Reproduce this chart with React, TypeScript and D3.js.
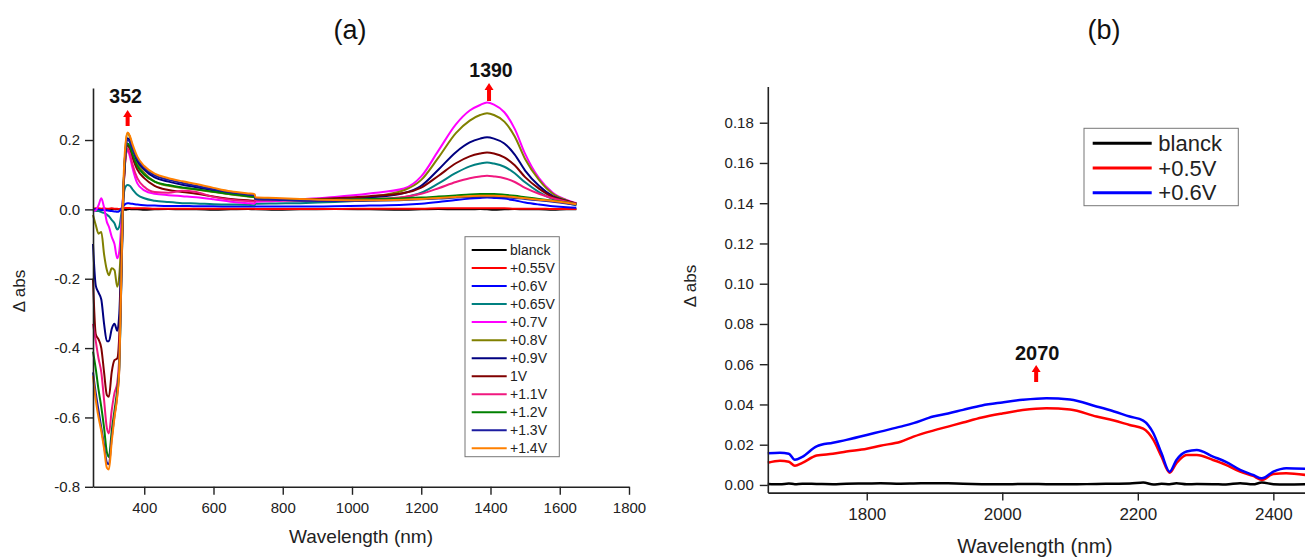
import React, { useEffect, useRef } from 'react';
import * as d3 from 'd3';

// ---------- panel (a) data ----------
const WL_A = [
    252, 260, 268, 276, 284, 292, 298, 306, 314, 322, 328, 334, 340, 346, 352, 358, 366, 380, 400, 430, 470, 510, 550,
    600, 650, 700, 719, 721, 780, 850, 950, 1050, 1150, 1200, 1250, 1300, 1340, 1370, 1390, 1410, 1440, 1470, 1500,
    1540, 1580, 1620, 1648,
];

const BLANCK_A = [
    0.001, 0.0, -0.001, 0.0, 0.001, 0.0, -0.001, 0.0, 0.001, 0.0, 0.0, 0.001, 0.0, -0.001, 0.0, 0.001, 0.0, 0.0, -0.001,
    0.0, 0.001, 0.0, 0.0, -0.001, 0.0, 0.001, 0.0, 0.0, -0.001, 0.0, 0.001, 0.0, -0.001, 0.0, 0.001, 0.0, 0.0, 0.001, 0.0,
    -0.001, 0.0, 0.001, 0.0, 0.0, -0.001, 0.0, 0.0,
];
const V055 = [
    0.002, 0.003, 0.003, 0.002, 0.003, 0.002, 0.002, 0.003, 0.002, 0.002, 0.001, 0.002, 0.003, 0.004, 0.004, 0.004, 0.003,
    0.003, 0.003, 0.002, 0.002, 0.002, 0.002, 0.002, 0.002, 0.002, 0.002, 0.001, 0.001, 0.001, 0.001, 0.002, 0.002, 0.002,
    0.003, 0.003, 0.003, 0.003, 0.003, 0.003, 0.003, 0.002, 0.002, 0.002, 0.001, 0.001, 0.001,
];
const V060 = [
    0.0, 0.0, -0.001, -0.002, -0.002, -0.003, -0.004, -0.005, -0.006, -0.007, -0.005, 0.002, 0.01, 0.016, 0.018, 0.017,
    0.016, 0.014, 0.012, 0.011, 0.01, 0.01, 0.009, 0.009, 0.008, 0.008, 0.008, 0.008, 0.008, 0.008, 0.009, 0.011, 0.013,
    0.016, 0.021, 0.027, 0.031, 0.033, 0.034, 0.033, 0.031, 0.026, 0.02, 0.014, 0.009, 0.006, 0.005,
];
const V065 = [
    -0.003, -0.005, -0.005, -0.008, -0.01, -0.015, -0.02, -0.03, -0.04, -0.058, -0.05, -0.01, 0.04, 0.065, 0.07, 0.068,
    0.058, 0.042, 0.032, 0.025, 0.021, 0.018, 0.017, 0.015, 0.014, 0.013, 0.012, 0.016, 0.017, 0.018, 0.021, 0.026, 0.035,
    0.048, 0.075, 0.105, 0.124, 0.132, 0.135, 0.132, 0.123, 0.104, 0.078, 0.05, 0.03, 0.018, 0.012,
];
const V070 = [
    -0.005, -0.003, 0.012, 0.032, 0.005, -0.036, -0.05, -0.079, -0.1, -0.141, -0.12, -0.04, 0.06, 0.15, 0.17, 0.155, 0.12,
    0.075, 0.055, 0.045, 0.041, 0.038, 0.035, 0.029, 0.022, 0.018, 0.017, 0.022, 0.024, 0.029, 0.036, 0.046, 0.06, 0.095,
    0.17, 0.245, 0.285, 0.301, 0.308, 0.302, 0.28, 0.232, 0.16, 0.09, 0.048, 0.027, 0.018,
];
const V080 = [
    -0.016, -0.045, -0.07, -0.065, -0.13, -0.175, -0.19, -0.17, -0.175, -0.223, -0.19, -0.08, 0.06, 0.18, 0.22, 0.21, 0.18,
    0.135, 0.105, 0.08, 0.068, 0.062, 0.057, 0.05, 0.043, 0.037, 0.035, 0.03, 0.029, 0.027, 0.03, 0.036, 0.055, 0.085,
    0.15, 0.22, 0.256, 0.272, 0.277, 0.272, 0.253, 0.21, 0.145, 0.085, 0.045, 0.026, 0.017,
];
const V090 = [
    -0.1, -0.22, -0.24, -0.26, -0.33, -0.38, -0.38, -0.345, -0.33, -0.35, -0.3, -0.12, 0.06, 0.17, 0.205, 0.198, 0.175,
    0.14, 0.115, 0.092, 0.08, 0.071, 0.064, 0.055, 0.047, 0.041, 0.039, 0.03, 0.028, 0.026, 0.029, 0.034, 0.047, 0.068,
    0.115, 0.165, 0.193, 0.204, 0.208, 0.204, 0.19, 0.158, 0.112, 0.068, 0.038, 0.024, 0.016,
];
const V100 = [
    -0.2, -0.36, -0.375, -0.4, -0.47, -0.535, -0.54, -0.47, -0.435, -0.43, -0.36, -0.16, 0.05, 0.15, 0.185, 0.175, 0.15,
    0.115, 0.09, 0.068, 0.056, 0.05, 0.045, 0.037, 0.03, 0.026, 0.025, 0.027, 0.027, 0.028, 0.032, 0.038, 0.047, 0.063,
    0.097, 0.133, 0.153, 0.161, 0.164, 0.161, 0.15, 0.127, 0.093, 0.06, 0.036, 0.024, 0.016,
];
const V110 = [
    -0.33, -0.38, -0.43, -0.47, -0.55, -0.63, -0.646, -0.58, -0.53, -0.5, -0.42, -0.19, 0.05, 0.15, 0.175, 0.162, 0.13,
    0.09, 0.065, 0.05, 0.048, 0.054, 0.05, 0.036, 0.028, 0.024, 0.023, 0.026, 0.026, 0.025, 0.027, 0.03, 0.036, 0.045,
    0.061, 0.079, 0.09, 0.095, 0.097, 0.095, 0.09, 0.079, 0.062, 0.045, 0.032, 0.022, 0.016,
];
const V120 = [
    -0.41, -0.46, -0.52, -0.57, -0.63, -0.7, -0.714, -0.64, -0.58, -0.52, -0.45, -0.2, 0.05, 0.16, 0.19, 0.183, 0.16, 0.125,
    0.1, 0.08, 0.07, 0.063, 0.058, 0.051, 0.044, 0.038, 0.036, 0.03, 0.029, 0.028, 0.028, 0.03, 0.032, 0.034, 0.037, 0.04,
    0.043, 0.044, 0.044, 0.044, 0.042, 0.039, 0.035, 0.03, 0.025, 0.02, 0.015,
];
const V130 = [
    -0.47, -0.53, -0.58, -0.63, -0.68, -0.73, -0.735, -0.66, -0.595, -0.535, -0.455, -0.2, 0.06, 0.17, 0.2, 0.195, 0.175,
    0.145, 0.12, 0.098, 0.085, 0.076, 0.068, 0.058, 0.049, 0.043, 0.041, 0.03, 0.028, 0.025, 0.024, 0.025, 0.027, 0.029,
    0.031, 0.034, 0.035, 0.036, 0.036, 0.036, 0.035, 0.033, 0.03, 0.026, 0.022, 0.017, 0.013,
];
const V140 = [
    -0.48, -0.55, -0.6, -0.64, -0.69, -0.745, -0.75, -0.67, -0.6, -0.54, -0.46, -0.18, 0.08, 0.19, 0.222, 0.213, 0.188,
    0.152, 0.125, 0.103, 0.09, 0.081, 0.073, 0.062, 0.052, 0.046, 0.044, 0.035, 0.033, 0.03, 0.027, 0.026, 0.028, 0.03,
    0.033, 0.036, 0.038, 0.039, 0.039, 0.039, 0.038, 0.035, 0.032, 0.028, 0.024, 0.019, 0.015,
];

const SERIES_A = [
    { name: 'blanck', color: '#000000', values: BLANCK_A },
    { name: '+0.55V', color: '#ff0000', values: V055 },
    { name: '+0.6V', color: '#0000ff', values: V060 },
    { name: '+0.65V', color: '#008080', values: V065 },
    { name: '+0.7V', color: '#ff00ff', values: V070 },
    { name: '+0.8V', color: '#808000', values: V080 },
    { name: '+0.9V', color: '#000080', values: V090 },
    { name: '1V', color: '#800000', values: V100 },
    { name: '+1.1V', color: '#f0187f', values: V110 },
    { name: '+1.2V', color: '#008000', values: V120 },
    { name: '+1.3V', color: '#1c1ca0', values: V130 },
    { name: '+1.4V', color: '#ff8000', values: V140 },
];

// ---------- panel (b) data ----------
const WL_B = [
    1654, 1672, 1685, 1694, 1705, 1726, 1750, 1770, 1800, 1820, 1850, 1869, 1898, 1920, 1942, 1970, 2000, 2030, 2065,
    2100, 2139, 2165, 2188, 2208, 2223, 2235, 2247, 2257, 2272, 2287, 2311, 2330, 2351, 2370, 2383, 2400, 2419, 2447,
];
const BLANCK_B = [
    0.0005, 0.0003, 0.0007, 0.0004, 0.0006, 0.0005, 0.0004, 0.0006, 0.0007, 0.0008, 0.0006, 0.0007, 0.0009, 0.0008,
    0.0006, 0.0004, 0.0003, 0.0005, 0.0004, 0.0003, 0.0005, 0.0006, 0.0007, 0.0012, 0.0002, 0.0006, 0.0004, 0.0008,
    0.0003, 0.0005, 0.0004, 0.0002, 0.0009, 0.0003, 0.0012, 0.0004, 0.0002, 0.0003,
];
const V05_B = [
    0.011, 0.012, 0.0115, 0.0096, 0.011, 0.0146, 0.0155, 0.0166, 0.018, 0.0195, 0.0215, 0.024, 0.027, 0.029, 0.031,
    0.0335, 0.0355, 0.0372, 0.0381, 0.0375, 0.034, 0.032, 0.0298, 0.028, 0.0224, 0.014, 0.0061, 0.0108, 0.0149, 0.0149,
    0.0124, 0.01, 0.0066, 0.0045, 0.0025, 0.0055, 0.0058, 0.005,
];
const V06_B = [
    0.0157, 0.016, 0.0155, 0.0125, 0.014, 0.0192, 0.021, 0.0224, 0.0248, 0.0265, 0.029, 0.0307, 0.034, 0.0355, 0.0373,
    0.0395, 0.041, 0.0423, 0.0431, 0.0425, 0.039, 0.0365, 0.034, 0.032, 0.0257, 0.0157, 0.0066, 0.0124, 0.0166, 0.0174,
    0.0141, 0.0115, 0.0075, 0.005, 0.0033, 0.0066, 0.0083, 0.008,
];

const SERIES_B = [
    { name: 'blanck', color: '#000000', values: BLANCK_B },
    { name: '+0.5V', color: '#ff0000', values: V05_B },
    { name: '+0.6V', color: '#0000ff', values: V06_B },
];

const YTICKS_A = [-0.8, -0.6, -0.4, -0.2, 0.0, 0.2];
const YMINOR_A = [-0.7, -0.5, -0.3, -0.1, 0.1, 0.3];
const XTICKS_A = [400, 600, 800, 1000, 1200, 1400, 1600, 1800];
const XMINOR_A = [300, 500, 700, 900, 1100, 1300, 1500, 1700];
const YTICKS_B = [0.0, 0.02, 0.04, 0.06, 0.08, 0.1, 0.12, 0.14, 0.16, 0.18];
const YMINOR_B = [0.01, 0.03, 0.05, 0.07, 0.09, 0.11, 0.13, 0.15, 0.17, 0.19];
const XTICKS_B = [1800, 2000, 2200, 2400];
const XMINOR_B = [1700, 1900, 2100, 2300];

const FONT = "'Liberation Sans', Arial, sans-serif";

const drawAxes = (svg, x, y, cfg) => {
    const [y0] = y.domain();
    const [x0] = x.domain();
    const gx = svg.append('g').attr('transform', `translate(0,${y(y0)})`);
    gx.call(d3.axisBottom(x).tickValues(cfg.xMinor).tickSize(4).tickSizeOuter(0).tickFormat(() => ''));
    gx.call(
        d3.axisBottom(x).tickValues(cfg.xTicks).tickSize(8).tickSizeOuter(0).tickFormat((d) => String(d))
    );
    gx.selectAll('text')
        .attr('y', cfg.xLabelY)
        .attr('dy', null)
        .style('font-size', cfg.xFont)
        .style('font-family', FONT)
        .style('fill', '#222');

    const gy = svg.append('g').attr('transform', `translate(${x(x0)},0)`);
    gy.call(d3.axisLeft(y).tickValues(cfg.yMinor).tickSize(4).tickSizeOuter(0).tickFormat(() => ''));
    gy.call(
        d3
            .axisLeft(y)
            .tickValues(cfg.yTicks)
            .tickSize(8)
            .tickPadding(cfg.yPad)
            .tickSizeOuter(0)
            .tickFormat((d) => d.toFixed(cfg.yDigits))
    );
    gy.selectAll('text').style('font-size', cfg.yFont).style('font-family', FONT).style('fill', '#222');

    svg.selectAll('.domain').attr('stroke', '#222').attr('stroke-width', 1.6);
    svg.selectAll('.tick line').attr('stroke', '#222').attr('stroke-width', 1.4);
};

const drawArrow = (svg, cx, top, bottom) => {
    const p = d3.path();
    p.moveTo(cx - 2, bottom);
    p.lineTo(cx - 2, top + 7);
    p.lineTo(cx - 4.5, top + 7);
    p.lineTo(cx, top);
    p.lineTo(cx + 4.5, top + 7);
    p.lineTo(cx + 2, top + 7);
    p.lineTo(cx + 2, bottom);
    p.closePath();
    svg.append('path').attr('d', p.toString()).attr('fill', '#ff0000');
};

const Chart = () => {
    const svgRef = useRef(null);

    useEffect(() => {
        const svg = d3.select(svgRef.current);
        svg.selectAll('*').remove();

        // ----- panel (a) -----
        const xA = d3.scaleLinear().domain([252, 1800]).range([93, 629]);
        const yA = d3.scaleLinear().domain([-0.8, 0.35]).range([486.8, 88]);

        const lineA = d3
            .line()
            .x((d, i) => xA(WL_A[i]))
            .y((d) => yA(d))
            .curve(d3.curveMonotoneX);

        SERIES_A.forEach((s) => {
            svg.append('path')
                .attr('d', lineA(s.values))
                .attr('fill', 'none')
                .attr('stroke', s.color)
                .attr('stroke-width', 2);
        });

        drawAxes(svg, xA, yA, {
            xTicks: XTICKS_A,
            xMinor: XMINOR_A,
            yTicks: YTICKS_A,
            yMinor: YMINOR_A,
            xLabelY: 26,
            xFont: '15px',
            yFont: '15px',
            yPad: 5,
            yDigits: 1,
        });

        svg.append('text')
            .attr('x', 361)
            .attr('y', 543)
            .attr('text-anchor', 'middle')
            .style('font-family', FONT)
            .style('font-size', '19px')
            .style('fill', '#222')
            .text('Wavelength (nm)');

        svg.append('text')
            .attr('transform', 'translate(25,291) rotate(-90)')
            .attr('text-anchor', 'middle')
            .style('font-family', FONT)
            .style('font-size', '17px')
            .style('fill', '#222')
            .text('Δ abs');

        svg.append('text')
            .attr('x', 350)
            .attr('y', 39)
            .attr('text-anchor', 'middle')
            .style('font-family', FONT)
            .style('font-size', '27px')
            .style('fill', '#111')
            .text('(a)');

        // peak annotations
        svg.append('text')
            .attr('x', xA(352) - 2)
            .attr('y', 103)
            .attr('text-anchor', 'middle')
            .style('font-family', FONT)
            .style('font-size', '19.5px')
            .style('font-weight', 'bold')
            .style('fill', '#111')
            .text('352');
        drawArrow(svg, xA(352), 110, 126);

        svg.append('text')
            .attr('x', xA(1390) + 4)
            .attr('y', 77)
            .attr('text-anchor', 'middle')
            .style('font-family', FONT)
            .style('font-size', '19.5px')
            .style('font-weight', 'bold')
            .style('fill', '#111')
            .text('1390');
        drawArrow(svg, xA(1390) + 2, 83, 101);

        // legend (a)
        const legA = svg.append('g');
        legA.append('rect')
            .attr('x', 465)
            .attr('y', 236.7)
            .attr('width', 94.3)
            .attr('height', 220)
            .attr('fill', '#fff')
            .attr('stroke', '#777')
            .attr('stroke-width', 1);
        SERIES_A.forEach((s, i) => {
            const yy = 250 + i * 18.03;
            legA.append('line')
                .attr('x1', 471.7)
                .attr('x2', 506.7)
                .attr('y1', yy)
                .attr('y2', yy)
                .attr('stroke', s.color)
                .attr('stroke-width', 2);
            legA.append('text')
                .attr('x', 510)
                .attr('y', yy)
                .attr('dy', '0.35em')
                .style('font-family', FONT)
                .style('font-size', '14px')
                .style('fill', '#222')
                .text(s.name);
        });

        // ----- panel (b) -----
        const xB = d3.scaleLinear().domain([1654, 2460]).range([767.8, 1314]);
        const yB = d3.scaleLinear().domain([-0.0038, 0.198]).range([492.6, 86.5]);

        const lineB = d3
            .line()
            .x((d, i) => xB(WL_B[i]))
            .y((d) => yB(d))
            .curve(d3.curveMonotoneX);

        SERIES_B.forEach((s) => {
            svg.append('path')
                .attr('d', lineB(s.values))
                .attr('fill', 'none')
                .attr('stroke', s.color)
                .attr('stroke-width', 2.5);
        });

        drawAxes(svg, xB, yB, {
            xTicks: XTICKS_B,
            xMinor: XMINOR_B,
            yTicks: YTICKS_B,
            yMinor: YMINOR_B,
            xLabelY: 27,
            xFont: '17px',
            yFont: '15px',
            yPad: 6,
            yDigits: 2,
        });

        svg.append('text')
            .attr('x', 1035)
            .attr('y', 553)
            .attr('text-anchor', 'middle')
            .style('font-family', FONT)
            .style('font-size', '20.5px')
            .style('fill', '#222')
            .text('Wavelength (nm)');

        svg.append('text')
            .attr('transform', 'translate(696,286) rotate(-90)')
            .attr('text-anchor', 'middle')
            .style('font-family', FONT)
            .style('font-size', '17px')
            .style('fill', '#222')
            .text('Δ abs');

        svg.append('text')
            .attr('x', 1104)
            .attr('y', 39)
            .attr('text-anchor', 'middle')
            .style('font-family', FONT)
            .style('font-size', '27px')
            .style('fill', '#111')
            .text('(b)');

        svg.append('text')
            .attr('x', xB(2050) + 1)
            .attr('y', 360)
            .attr('text-anchor', 'middle')
            .style('font-family', FONT)
            .style('font-size', '20px')
            .style('font-weight', 'bold')
            .style('fill', '#111')
            .text('2070');
        drawArrow(svg, xB(2050), 365, 382);

        // legend (b)
        const legB = svg.append('g');
        legB.append('rect')
            .attr('x', 1084)
            .attr('y', 128.3)
            .attr('width', 154.3)
            .attr('height', 77.4)
            .attr('fill', '#fff')
            .attr('stroke', '#777')
            .attr('stroke-width', 1);
        SERIES_B.forEach((s, i) => {
            const yy = 143.3 + i * 24.7;
            legB.append('line')
                .attr('x1', 1092.7)
                .attr('x2', 1151.7)
                .attr('y1', yy)
                .attr('y2', yy)
                .attr('stroke', s.color)
                .attr('stroke-width', 3);
            legB.append('text')
                .attr('x', 1158.3)
                .attr('y', yy)
                .attr('dy', '0.35em')
                .style('font-family', FONT)
                .style('font-size', '22px')
                .style('fill', '#222')
                .text(s.name);
        });
    }, []);

    return (
        <svg
            ref={svgRef}
            width={1305}
            height={558}
            style={{ position: 'absolute', left: 0, top: 0, background: '#fff' }}
        />
    );
};

export default function App() {
    return <Chart />;
}
